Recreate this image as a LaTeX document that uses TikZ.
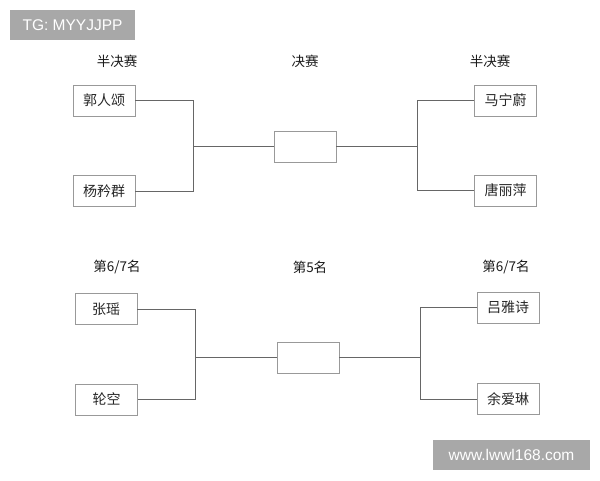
\documentclass[tikz,border=0pt]{standalone}
\usepackage{fontspec}
\setmainfont{Liberation Sans}
\newfontfamily\cjk{Noto Sans CJK SC}
\begin{document}
\begin{tikzpicture}[x=1pt,y=-1pt,
    player/.style={draw=black!40,line width=0.9pt,minimum width=62pt,minimum height=31pt,inner sep=0pt,font=\cjk\fontsize{14}{14}\selectfont,text=black!85},
    heading/.style={font=\cjk\fontsize{13.5}{14}\selectfont,text=black!90},
    stamp/.style={fill=black!34,text=white,inner sep=0pt,font=\fontsize{15.5}{16}\selectfont}]
  \useasboundingbox (0,0) rectangle (600,480);
  \draw
    (72.5,25) node[stamp,minimum width=125pt,minimum height=30pt] (tg){TG: MYYJJPP}
    (511.5,455) node[stamp,minimum width=157pt,minimum height=30pt] (web){www.lwwl168.com}
    (117,61) node[heading] (l1){半决赛}
    (305,61) node[heading] (l2){决赛}
    (490,61) node[heading] (l3){半决赛}
    (117,267) node[heading] (l4){第6/7名}
    (310,267) node[heading] (l5){第5名}
    (506,267) node[heading] (l6){第6/7名}
    (104,100.5) node[player] (a1){郭人颂}
    (104,191) node[player] (a2){杨矜群}
    (305,146.5) node[player] (f1){}
    (505.5,100.5) node[player] (b1){马宁蔚}
    (505.5,190.5) node[player] (b2){唐丽萍}
    (106,309) node[player] (c1){张瑶}
    (106.5,399.5) node[player] (c2){轮空}
    (308,357.5) node[player] (f2){}
    (508,307.5) node[player] (d1){吕雅诗}
    (508,399) node[player] (d2){余爱琳};
  \coordinate (ja) at (193,146.5);
  \coordinate (jb) at (417,146.5);
  \coordinate (jc) at (195,357.5);
  \coordinate (jd) at (420,357.5);
  \begin{scope}[draw=black!60,line width=0.8pt]
    \draw (a1) -| (ja);
    \draw (a2) -| (ja);
    \draw (ja) -- (f1);
    \draw (b1) -| (jb);
    \draw (b2) -| (jb);
    \draw (jb) -- (f1);
    \draw (c1) -| (jc);
    \draw (c2) -| (jc);
    \draw (jc) -- (f2);
    \draw (d1) -| (jd);
    \draw (d2) -| (jd);
    \draw (jd) -- (f2);
  \end{scope}
\end{tikzpicture}
\end{document}
